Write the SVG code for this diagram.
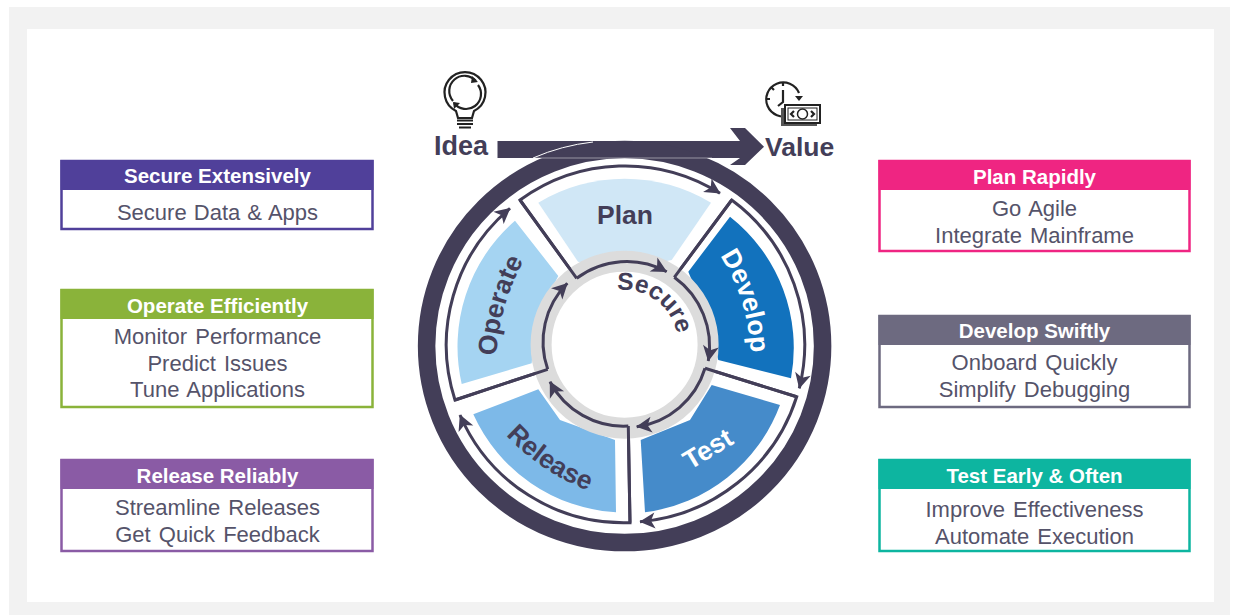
<svg xmlns="http://www.w3.org/2000/svg" xmlns:xlink="http://www.w3.org/1999/xlink" width="1235" height="615" viewBox="0 0 1235 615">
<style>
text{font-family:"Liberation Sans",Arial,sans-serif}
.hd{font-size:20.5px;font-weight:700;fill:#fff;text-anchor:middle}
.bd{font-size:22px;fill:#55536a;text-anchor:middle;word-spacing:2px}
.box{fill:#fff;stroke-width:2.5}
.big{font-size:26.5px;font-weight:700;fill:#433e58}
.w{fill:#fff}
.flow{fill:none;stroke:#433e58;stroke-width:3;marker-start:url(#ah);marker-end:url(#ah)}
.ic{fill:none;stroke:#222;stroke-width:2.200}
</style>
<defs>
<marker id="ah" markerUnits="userSpaceOnUse" markerWidth="20" markerHeight="20" viewBox="-16 -10 20 20" refX="1" refY="0" orient="auto-start-reverse">
<path d="M-14,-8 L1.500,0 L-14,8 L-10,0 Z" fill="#433e58"/>
</marker>
<path id="pDev" d="M719,254 Q748,297 751,355"/>
<path id="pTest" d="M687,472 L738,441"/>
<path id="pRel" d="M503,432 Q540,473 592,492"/>
<path id="pOp" d="M496,359 Q499,305 525,258"/>
<path id="pSec" d="M618,290 A55 55 0 0 1 677,333"/>
</defs>
<rect x="9" y="7" width="1221" height="608" fill="#f2f2f2"/>
<rect x="27" y="29" width="1187" height="573" fill="#fff"/>

<g id="connectors">
<path id="idea-value" fill="#433e58" d="M497.5,141 H740 L730,128 H745 L764,146.7 L745,165 H730 L740,158 H497.5 Z"/>
<path class="flow" d="M666.7,271.7 A83 83 0 0 0 576.7,278.3 L520,200 A178.5 178.5 0 0 1 720,193.3"/>
<path class="flow" d="M708.3,361 A85 85 0 0 0 674.3,277.3 L731.7,200 A180 180 0 0 1 799.3,388.3"/>
<path class="flow" d="M636.7,426.7 A83 83 0 0 0 705,368.3 L796.7,396.7 A180 180 0 0 1 640,521.7"/>
<path class="flow" d="M550,381.7 A83 83 0 0 0 628.3,426 L630,522.7 A178.5 178.5 0 0 1 460,415"/>
<path class="flow" d="M567.3,283.3 A83 83 0 0 0 547.7,369.3 L455,400 A178.5 178.5 0 0 1 510,208.3"/>
</g>

<g id="ring">
<ellipse cx="624.6" cy="346.100" rx="198" ry="196.500" fill="none" stroke="#433e58" stroke-width="17.5"/>
<path d="M533,158 A207 205.700 0 0 1 593,142" fill="none" stroke="#fff" stroke-width="1"/>
<path d="M535,158 H712" fill="none" stroke="#fff" stroke-opacity=".45" stroke-width="1"/>
</g>

<g id="plan">
<path fill="#d0e7f6" d="M538.3,202.7 A167 167 0 0 1 711,202.7 L671.7,260 L625,270 L578,261.7 Z"/>
<text class="big" x="625" y="224" text-anchor="middle">Plan</text>
</g>
<g id="develop">
<path fill="#1272bd" d="M730,216.7 A167 167 0 0 1 791,378.3 L718.3,360 L700,300 L688.3,271.7 Z"/>
<text class="big w"><textPath xlink:href="#pDev" href="#pDev" startOffset="50%" text-anchor="middle">Develop</textPath></text>
</g>
<g id="test">
<path fill="#458bca" d="M780,405 A167 167 0 0 1 645,512.3 L640.7,440 L690,420 L711.7,385 Z"/>
<text class="big w"><textPath xlink:href="#pTest" href="#pTest" startOffset="50%" text-anchor="middle">Test</textPath></text>
</g>
<g id="release">
<path fill="#7db9e8" d="M473.3,414.3 A167 167 0 0 0 616,512.3 L615,440 L560,420 L538.3,389.3 Z"/>
<text class="big"><textPath xlink:href="#pRel" href="#pRel" startOffset="50%" text-anchor="middle">Release</textPath></text>
</g>
<g id="operate">
<path fill="#a5d4f2" d="M461.7,384 A167 167 0 0 1 515,220.7 L558.3,276 L535,320 L531.7,363.3 Z"/>
<text class="big"><textPath xlink:href="#pOp" href="#pOp" startOffset="50%" text-anchor="middle">Operate</textPath></text>
</g>

<g id="secure">
<circle cx="624.6" cy="344.7" r="83.5" fill="#fff" stroke="#dcdcdc" stroke-width="21"/>
<text font-size="24.5" font-weight="700" fill="#433e58"><textPath xlink:href="#pSec" href="#pSec" startOffset="50%" text-anchor="middle">Secure</textPath></text>
</g>
<g id="secure-flow">
<path class="flow" style="marker-start:none" d="M576.7,278.3 A83 83 0 0 1 666.7,271.7"/>
<path class="flow" style="marker-start:none" d="M674.3,277.3 A85 85 0 0 1 708.3,361"/>
<path class="flow" style="marker-start:none" d="M705,368.3 A83 83 0 0 1 636.7,426.7"/>
<path class="flow" style="marker-start:none" d="M628.3,426 A83 83 0 0 1 550,381.7"/>
<path class="flow" style="marker-start:none" d="M547.7,369.3 A83 83 0 0 1 567.3,283.3"/>
<path fill="none" stroke="#433e58" stroke-width="3" d="M576.7,278.3 L520,200 M674.3,277.3 L731.7,200 M705,368.3 L796.7,396.7 M628.3,426 L630,522.7 M547.7,369.3 L455,400"/>
</g>

<g id="idea">
<path class="ic" d="M456,111 A20.5 20.5 0 1 1 474,111 L472,118 H458 Z"/>
<path class="ic" d="M457,120.500 H473 M457,124 H473 M459,127.500 H471"/>
<path class="ic" stroke-width="1.800" d="M476,81 A15 15 0 0 0 453,101 M454,103 A15 15 0 0 0 478,85"/>
<path fill="#222" d="M472,76 L478,82 L471,83 Z M454,109 L453,102 L460,103 Z"/>
<text class="big" style="font-size:27px" x="434" y="155">Idea</text>
</g>
<g id="value">
<path class="ic" d="M790,115 A17 17 0 1 1 799,93"/>
<path class="ic" d="M783,90 V102 L778,106 M766,99 H770 M783,82 V86 M771,87 L774,90"/>
<path fill="#222" d="M795,96 H803 L799,101 Z"/>
<rect x="781" y="108" width="36" height="18" fill="#555"/>
<rect x="785" y="105" width="35" height="18" fill="#fff" stroke="#222" stroke-width="2"/>
<rect x="788" y="108" width="29" height="12" fill="none" stroke="#222" stroke-width="1"/>
<circle cx="802.500" cy="114" r="5" fill="none" stroke="#222" stroke-width="1.500"/>
<path class="ic" stroke-width="1" d="M794,111 L791,114 L794,117 M811,111 L814,114 L811,117"/>
<text class="big" x="765" y="156">Value</text>
</g>

<g id="secure-extensively">
<rect class="box" x="61.500" y="161" width="311" height="68" stroke="#50409a"/>
<rect x="60.500" y="160" width="313" height="30" fill="#50409a"/>
<text class="hd" x="217.500" y="183">Secure Extensively</text>
<text class="bd" style="word-spacing:1px" x="217.500" y="220">Secure Data &amp; Apps</text>
</g>
<g id="operate-efficiently">
<rect class="box" x="61.500" y="290" width="311" height="117" stroke="#8ab33a"/>
<rect x="60.500" y="289" width="313" height="30" fill="#8ab33a"/>
<text class="hd" x="217.500" y="313">Operate Efficiently</text>
<text class="bd" x="217.500" y="344">Monitor Performance</text>
<text class="bd" x="217.500" y="371">Predict Issues</text>
<text class="bd" x="217.500" y="397">Tune Applications</text>
</g>
<g id="release-reliably">
<rect class="box" x="61.500" y="460" width="311" height="91" stroke="#8a5ba5"/>
<rect x="60.500" y="459" width="313" height="30" fill="#8a5ba5"/>
<text class="hd" x="217.500" y="483">Release Reliably</text>
<text class="bd" x="217.500" y="515">Streamline Releases</text>
<text class="bd" x="217.500" y="542">Get Quick Feedback</text>
</g>
<g id="plan-rapidly">
<rect class="box" x="879.500" y="161" width="310" height="90" stroke="#ef2582"/>
<rect x="878.500" y="160" width="312" height="30" fill="#ef2582"/>
<text class="hd" x="1034.500" y="184">Plan Rapidly</text>
<text class="bd" x="1034.500" y="215.500">Go Agile</text>
<text class="bd" x="1034.500" y="242.500">Integrate Mainframe</text>
</g>
<g id="develop-swiftly">
<rect class="box" x="879.500" y="316" width="310" height="91" stroke="#6d6a80"/>
<rect x="878.500" y="315" width="312" height="30" fill="#6d6a80"/>
<text class="hd" x="1034.500" y="338">Develop Swiftly</text>
<text class="bd" x="1034.500" y="370">Onboard Quickly</text>
<text class="bd" x="1034.500" y="397">Simplify Debugging</text>
</g>
<g id="test-early">
<rect class="box" x="879.500" y="460" width="310" height="91" stroke="#0db5a0"/>
<rect x="878.500" y="459" width="312" height="30" fill="#0db5a0"/>
<text class="hd" x="1034.500" y="483">Test Early &amp; Often</text>
<text class="bd" x="1034.500" y="516.500">Improve Effectiveness</text>
<text class="bd" x="1034.500" y="543.500">Automate Execution</text>
</g>
</svg>
